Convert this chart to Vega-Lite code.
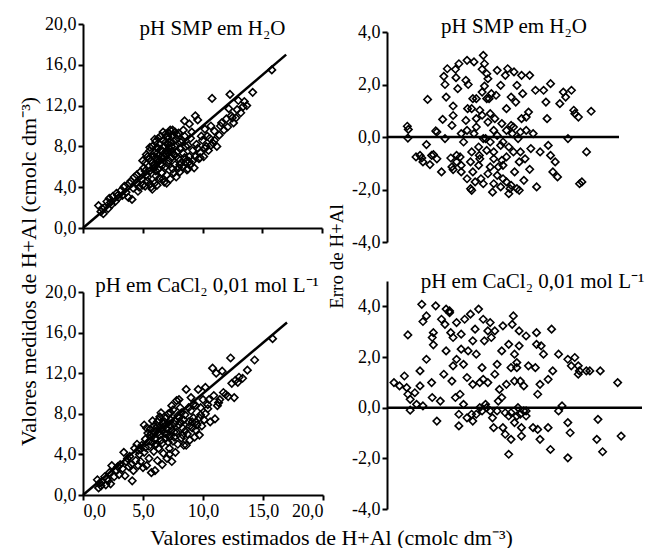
{
"$schema": "https://vega.github.io/schema/vega-lite/v6.json",
"padding": {"left": 16, "top": 15, "right": 0, "bottom": 0},
"config": {
 "font": "Liberation Serif",
 "view": {"stroke": null},
 "axis": {"domainColor": "black", "domainWidth": 2, "tickColor": "black", "tickWidth": 2, "tickSize": 5, "labelFont": "Liberation Serif", "labelFontSize": 18, "labelColor": "black", "titleFont": "Liberation Serif", "titleFontSize": 22, "titleFontWeight": "normal", "titleColor": "black", "grid": false, "labelPadding": 2, "labelExpr": "replace(replace(format(datum.value, '.1f'), '.', ','), '\u2212', '-')"},
 "title": {"font": "Liberation Serif", "fontSize": 21, "fontWeight": "normal", "color": "black", "frame": "group", "anchor": "middle", "baseline": "alphabetic"},
 "point": {"shape": "diamond", "filled": false, "color": "black", "size": 55, "strokeWidth": 1.6, "opacity": 1}
},
"datasets": {
 "L": [{"x": 0, "y": 0}, {"x": 17, "y": 17}],
 "Z20": [{"x": 0, "y": 0}, {"x": 20, "y": 0}],
 "Z22": [{"x": 0, "y": 0}, {"x": 22, "y": 0}],
 "A": [
{"x":1.3,"y":2.2},{"x":1.5,"y":1.6},{"x":1.7,"y":1.4},{"x":1.8,"y":2.0},{"x":2.0,"y":2.6},{"x":2.1,"y":1.9},{"x":2.2,"y":2.9},{"x":2.4,"y":2.3},{"x":2.5,"y":3.1},{"x":2.7,"y":2.6},{"x":2.8,"y":3.4},{"x":3.0,"y":3.0},{"x":3.2,"y":3.7},{"x":3.3,"y":3.2},{"x":3.5,"y":4.1},{"x":3.6,"y":3.5},{"x":3.8,"y":3.0},{"x":4.1,"y":2.8},{"x":3.9,"y":4.4},{"x":4.2,"y":3.9},{"x":4.3,"y":5.0},{"x":4.5,"y":4.4},{"x":4.6,"y":3.6},{"x":4.8,"y":5.5},{"x":4.9,"y":4.8},{"x":5.0,"y":4.2},{"x":5.1,"y":5.9},{"x":5.3,"y":5.2},{"x":5.2,"y":6.4},{"x":5.5,"y":6.8},{"x":5.4,"y":4.6},{"x":5.6,"y":5.6},{"x":5.7,"y":4.0},{"x":5.8,"y":3.8},{"x":5.9,"y":6.2},{"x":6.0,"y":7.4},{"x":6.0,"y":4.4},{"x":6.1,"y":5.1},{"x":6.2,"y":6.8},{"x":6.2,"y":7.9},{"x":6.3,"y":7.1},{"x":6.4,"y":4.9},{"x":6.4,"y":8.2},{"x":6.5,"y":6.3},{"x":6.6,"y":7.6},{"x":6.6,"y":5.4},{"x":6.7,"y":8.6},{"x":6.8,"y":4.5},{"x":6.8,"y":7.0},{"x":6.9,"y":6.0},{"x":7.0,"y":8.9},{"x":7.0,"y":5.2},{"x":7.1,"y":7.4},{"x":7.2,"y":6.6},{"x":7.2,"y":9.3},{"x":7.3,"y":4.8},{"x":7.4,"y":8.0},{"x":7.5,"y":5.8},{"x":7.5,"y":9.6},{"x":7.6,"y":7.2},{"x":7.7,"y":6.2},{"x":7.8,"y":8.7},{"x":7.8,"y":5.0},{"x":7.9,"y":9.1},{"x":8.0,"y":6.8},{"x":8.1,"y":7.8},{"x":8.1,"y":5.5},{"x":8.2,"y":8.4},{"x":8.3,"y":6.0},{"x":8.4,"y":7.3},{"x":8.5,"y":9.0},{"x":8.6,"y":6.5},{"x":8.7,"y":5.7},{"x":8.8,"y":8.1},{"x":8.9,"y":7.0},{"x":9.0,"y":6.2},{"x":9.1,"y":9.4},{"x":9.2,"y":7.6},{"x":9.3,"y":5.9},{"x":9.4,"y":11.0},{"x":9.5,"y":8.2},{"x":9.6,"y":10.6},{"x":9.7,"y":6.8},{"x":9.8,"y":7.4},{"x":10.0,"y":8.6},{"x":10.1,"y":7.0},{"x":10.2,"y":9.7},{"x":10.3,"y":8.0},{"x":10.5,"y":7.6},{"x":10.6,"y":8.8},{"x":10.8,"y":12.7},{"x":10.9,"y":8.3},{"x":11.0,"y":9.5},{"x":11.2,"y":8.0},{"x":11.4,"y":9.1},{"x":11.6,"y":10.3},{"x":11.8,"y":9.6},{"x":12.0,"y":10.7},{"x":12.1,"y":9.9},{"x":12.2,"y":11.7},{"x":12.3,"y":13.1},{"x":12.4,"y":11.0},{"x":12.6,"y":10.3},{"x":12.8,"y":10.8},{"x":13.0,"y":12.5},{"x":13.2,"y":11.3},{"x":13.4,"y":11.9},{"x":13.7,"y":12.0},{"x":14.2,"y":13.3},{"x":15.8,"y":15.5},
{"x":5.0,"y":6.6},{"x":5.3,"y":7.2},{"x":5.6,"y":7.6},{"x":5.8,"y":8.0},{"x":6.0,"y":6.0},{"x":6.1,"y":8.5},{"x":6.3,"y":5.8},{"x":6.5,"y":9.0},{"x":6.7,"y":6.8},{"x":6.9,"y":9.2},{"x":7.1,"y":8.2},{"x":7.3,"y":9.6},{"x":7.4,"y":6.9},{"x":7.6,"y":8.5},{"x":7.9,"y":7.5},{"x":8.0,"y":9.3},{"x":8.2,"y":6.4},{"x":8.4,"y":9.6},{"x":8.6,"y":8.0},{"x":8.8,"y":5.8},{"x":9.0,"y":8.8},{"x":9.2,"y":6.6},{"x":5.7,"y":6.6},{"x":6.2,"y":7.3},{"x":6.6,"y":7.0},{"x":7.0,"y":7.6},{"x":6.4,"y":6.6},{"x":5.9,"y":7.0},{"x":6.8,"y":8.0},{"x":7.2,"y":7.8},{"x":7.7,"y":8.0},{"x":8.3,"y":8.6},{"x":4.5,"y":5.2},{"x":4.0,"y":4.6},{"x":3.4,"y":4.0},{"x":2.9,"y":3.2},{"x":2.3,"y":2.5},{"x":1.6,"y":1.9},{"x":4.7,"y":4.0},{"x":5.2,"y":5.6},{"x":9.6,"y":7.8},{"x":10.4,"y":9.0},{"x":11.0,"y":8.6},{"x":11.5,"y":10.0},{"x":12.5,"y":10.8},{"x":12.9,"y":11.6},{"x":13.5,"y":12.4},{"x":10.7,"y":10.0},{"x":9.9,"y":9.0},{"x":8.9,"y":10.2},{"x":8.5,"y":10.5},
{"x":5.4,"y":7.0},{"x":5.6,"y":7.9},{"x":5.8,"y":6.4},{"x":6.0,"y":8.7},{"x":6.1,"y":6.9},{"x":6.3,"y":8.8},{"x":6.5,"y":7.7},{"x":6.7,"y":9.4},{"x":6.9,"y":8.4},{"x":7.1,"y":9.0},{"x":7.3,"y":8.4},{"x":7.5,"y":9.1},{"x":7.7,"y":9.4},{"x":6.3,"y":7.8},{"x":6.9,"y":7.2},{"x":7.1,"y":6.3},{"x":6.1,"y":5.6},{"x":6.6,"y":6.1},{"x":7.4,"y":7.5},{"x":7.8,"y":7.0},{"x":8.1,"y":6.2},{"x":8.5,"y":6.9},{"x":8.9,"y":6.5},{"x":9.4,"y":7.0},{"x":9.8,"y":6.9},{"x":10.2,"y":7.8},{"x":10.7,"y":8.1},{"x":5.4,"y":5.0},{"x":6.7,"y":4.8},{"x":7.6,"y":5.4},{"x":8.0,"y":5.9},{"x":7.0,"y":4.4},{"x":5.2,"y":4.1},{"x":5.6,"y":4.3},{"x":5.9,"y":5.8},{"x":6.2,"y":4.2}
 ],
 "B": [
{"x":1.75,"y":0.41},{"x":1.84,"y":0.29},{"x":1.8,"y":-0.04},{"x":2.5,"y":-0.76},{"x":3.4,"y":-0.29},{"x":3.0,"y":-0.8},{"x":3.5,"y":1.43},{"x":3.7,"y":-1.05},{"x":4.0,"y":-0.67},{"x":4.3,"y":0.19},{"x":4.2,"y":0.23},{"x":4.8,"y":0.67},{"x":5.0,"y":-0.06},{"x":4.7,"y":-1.33},{"x":4.9,"y":2.31},{"x":5.2,"y":2.6},{"x":5.1,"y":1.52},{"x":5.0,"y":2.0},{"x":5.7,"y":1.18},{"x":5.7,"y":0.82},{"x":5.6,"y":0.44},{"x":5.5,"y":-0.8},{"x":5.7,"y":-1.24},{"x":5.95,"y":2.26},{"x":5.9,"y":2.58},{"x":6.1,"y":1.84},{"x":6.2,"y":2.79},{"x":6.0,"y":-0.7},{"x":6.4,"y":-1.33},{"x":6.6,"y":-0.19},{"x":6.8,"y":2.16},{"x":6.9,"y":2.92},{"x":7.0,"y":2.0},{"x":6.95,"y":1.08},{"x":6.8,"y":0.63},{"x":7.2,"y":-1.97},{"x":7.2,"y":-0.95},{"x":7.4,"y":-1.33},{"x":7.5,"y":2.86},{"x":7.4,"y":1.46},{"x":7.5,"y":0.13},{"x":7.7,"y":0.7},{"x":7.7,"y":0.38},{"x":7.9,"y":-0.38},{"x":8.0,"y":1.02},{"x":8.2,"y":1.71},{"x":8.2,"y":2.58},{"x":8.3,"y":3.11},{"x":8.4,"y":1.94},{"x":8.0,"y":-0.83},{"x":8.1,"y":-1.59},{"x":8.3,"y":-1.78},{"x":8.4,"y":2.79},{"x":8.6,"y":2.41},{"x":8.5,"y":-0.06},{"x":8.6,"y":-0.51},{"x":8.7,"y":2.22},{"x":8.8,"y":1.46},{"x":8.9,"y":0.89},{"x":8.9,"y":-1.14},{"x":9.1,"y":-2.1},{"x":9.2,"y":-0.83},{"x":9.3,"y":0.7},{"x":9.4,"y":1.59},{"x":9.5,"y":2.54},{"x":9.5,"y":0.06},{"x":9.6,"y":-1.14},{"x":9.8,"y":1.97},{"x":9.9,"y":0.51},{"x":10.0,"y":-1.59},{"x":10.0,"y":-0.19},{"x":10.2,"y":2.35},{"x":10.3,"y":1.08},{"x":10.3,"y":-0.76},{"x":10.4,"y":2.6},{"x":10.5,"y":-0.38},{"x":10.6,"y":-1.97},{"x":10.7,"y":1.52},{"x":10.7,"y":0.44},{"x":10.8,"y":0.13},{"x":10.95,"y":2.48},{"x":11.0,"y":-1.33},{"x":11.1,"y":1.33},{"x":11.2,"y":1.97},{"x":11.3,"y":-0.06},{"x":11.4,"y":-2.03},{"x":11.5,"y":-0.57},{"x":11.6,"y":0.7},{"x":11.6,"y":2.35},{"x":11.7,"y":1.65},{"x":11.8,"y":-1.65},{"x":11.9,"y":-0.83},{"x":12.0,"y":0.25},{"x":12.0,"y":0.76},{"x":12.2,"y":0.95},{"x":12.3,"y":2.35},{"x":12.3,"y":-1.23},{"x":12.4,"y":-0.44},{"x":12.6,"y":0.13},{"x":12.8,"y":1.78},{"x":12.9,"y":-1.9},{"x":13.2,"y":-0.57},{"x":13.5,"y":1.78},{"x":13.7,"y":1.33},{"x":13.8,"y":0.7},{"x":13.9,"y":-0.32},{"x":14.1,"y":2.03},{"x":14.1,"y":-0.7},{"x":14.3,"y":-1.33},{"x":14.5,"y":-0.95},{"x":14.7,"y":-1.52},{"x":14.9,"y":1.27},{"x":15.2,"y":1.71},{"x":15.4,"y":1.52},{"x":15.6,"y":-0.06},{"x":15.9,"y":1.78},{"x":16.1,"y":1.02},{"x":16.2,"y":0.89},{"x":16.5,"y":0.76},{"x":16.6,"y":-1.78},{"x":16.8,"y":-1.71},{"x":17.2,"y":-0.57},{"x":17.6,"y":0.98},
{"x":9.2,"y":-1.78},{"x":9.8,"y":-1.9},{"x":10.3,"y":-1.71},{"x":10.7,"y":-1.84},{"x":11.2,"y":-1.97},{"x":10.5,"y":-2.16},{"x":9.5,"y":-1.46},{"x":10.0,"y":-1.08},{"x":8.7,"y":-1.4},{"x":7.9,"y":-1.08},{"x":7.6,"y":-1.71},{"x":7.3,"y":-2.03},{"x":6.9,"y":-1.59},{"x":6.4,"y":-1.08},{"x":6.0,"y":-0.95},{"x":8.3,"y":-0.06},{"x":8.9,"y":-0.19},{"x":9.8,"y":-0.32},{"x":10.3,"y":0.25},{"x":10.9,"y":0.38},{"x":11.5,"y":0.19},{"x":9.2,"y":0.25},{"x":8.7,"y":0.57},{"x":8.2,"y":0.83},{"x":8.6,"y":1.46},{"x":9.0,"y":1.65},{"x":7.7,"y":1.46},{"x":7.3,"y":1.08},{"x":6.9,"y":0.25},{"x":6.4,"y":0.13},{"x":7.3,"y":-0.57},{"x":7.96,"y":-0.7},{"x":9.2,"y":-0.57},{"x":9.9,"y":-0.89},{"x":10.9,"y":-0.57},{"x":11.4,"y":-0.95},{"x":2.85,"y":-0.7},{"x":3.85,"y":-0.7},{"x":6.3,"y":-0.76},{"x":4.3,"y":-0.83},{"x":3.1,"y":-0.95},{"x":5.6,"y":-1.14}
 ],
 "C": [
{"x":1.2,"y":1.5},{"x":1.3,"y":0.7},{"x":1.5,"y":0.9},{"x":1.6,"y":1.3},{"x":1.8,"y":1.8},{"x":1.9,"y":1.0},{"x":2.1,"y":1.4},{"x":2.2,"y":2.2},{"x":2.3,"y":1.1},{"x":2.4,"y":2.9},{"x":2.6,"y":1.8},{"x":2.8,"y":2.4},{"x":3.0,"y":2.0},{"x":3.1,"y":3.0},{"x":3.3,"y":2.6},{"x":3.4,"y":4.2},{"x":3.5,"y":1.9},{"x":3.6,"y":3.3},{"x":3.8,"y":2.8},{"x":3.9,"y":3.8},{"x":4.1,"y":1.4},{"x":4.2,"y":2.4},{"x":4.3,"y":4.6},{"x":4.4,"y":3.4},{"x":4.5,"y":5.0},{"x":4.6,"y":2.9},{"x":4.7,"y":4.0},{"x":4.8,"y":3.3},{"x":4.9,"y":4.9},{"x":5.0,"y":2.7},{"x":5.1,"y":6.9},{"x":5.1,"y":4.2},{"x":5.2,"y":5.5},{"x":5.3,"y":2.9},{"x":5.4,"y":6.1},{"x":5.5,"y":3.6},{"x":5.5,"y":4.8},{"x":5.6,"y":6.5},{"x":5.7,"y":2.2},{"x":5.7,"y":5.7},{"x":5.8,"y":7.3},{"x":5.9,"y":4.3},{"x":6.0,"y":2.4},{"x":6.0,"y":6.2},{"x":6.1,"y":5.0},{"x":6.2,"y":3.4},{"x":6.2,"y":6.8},{"x":6.3,"y":4.6},{"x":6.4,"y":7.7},{"x":6.5,"y":5.4},{"x":6.6,"y":3.0},{"x":6.6,"y":6.4},{"x":6.7,"y":4.1},{"x":6.8,"y":7.2},{"x":6.9,"y":5.6},{"x":7.0,"y":3.6},{"x":7.0,"y":6.0},{"x":7.1,"y":8.0},{"x":7.2,"y":4.6},{"x":7.3,"y":6.8},{"x":7.4,"y":3.3},{"x":7.5,"y":5.3},{"x":7.5,"y":8.4},{"x":7.6,"y":7.0},{"x":7.7,"y":4.2},{"x":7.8,"y":9.3},{"x":7.8,"y":6.2},{"x":7.9,"y":5.0},{"x":8.0,"y":7.6},{"x":8.1,"y":8.6},{"x":8.2,"y":5.6},{"x":8.3,"y":6.6},{"x":8.4,"y":4.9},{"x":8.5,"y":7.9},{"x":8.6,"y":10.4},{"x":8.7,"y":6.0},{"x":8.8,"y":7.2},{"x":8.9,"y":5.4},{"x":9.0,"y":8.3},{"x":9.1,"y":6.6},{"x":9.2,"y":7.6},{"x":9.3,"y":5.7},{"x":9.4,"y":8.8},{"x":9.5,"y":6.9},{"x":9.6,"y":10.4},{"x":9.7,"y":7.6},{"x":9.8,"y":8.6},{"x":9.9,"y":6.8},{"x":10.0,"y":9.4},{"x":10.1,"y":7.4},{"x":10.2,"y":8.0},{"x":10.4,"y":8.5},{"x":10.6,"y":7.2},{"x":10.8,"y":12.5},{"x":10.9,"y":9.8},{"x":11.0,"y":7.5},{"x":11.1,"y":12.0},{"x":11.2,"y":8.8},{"x":11.4,"y":9.4},{"x":11.6,"y":12.2},{"x":11.7,"y":10.1},{"x":11.9,"y":9.9},{"x":12.1,"y":9.7},{"x":12.3,"y":13.5},{"x":12.4,"y":11.0},{"x":12.6,"y":9.6},{"x":12.7,"y":11.3},{"x":12.9,"y":11.1},{"x":13.0,"y":11.6},{"x":13.3,"y":11.5},{"x":13.7,"y":12.3},{"x":14.3,"y":13.3},{"x":15.8,"y":15.4},
{"x":5.8,"y":5.2},{"x":6.1,"y":6.6},{"x":6.4,"y":5.9},{"x":6.7,"y":7.0},{"x":7.0,"y":6.5},{"x":7.3,"y":7.4},{"x":7.6,"y":6.2},{"x":8.0,"y":6.9},{"x":8.4,"y":7.4},{"x":6.3,"y":6.2},{"x":5.6,"y":5.9},{"x":5.9,"y":6.8},{"x":6.9,"y":7.6},{"x":7.2,"y":5.7},{"x":8.2,"y":8.1},{"x":8.8,"y":8.6},{"x":9.2,"y":8.9},{"x":4.0,"y":3.0},{"x":3.7,"y":3.6},{"x":2.9,"y":2.8},{"x":2.0,"y":1.6},{"x":1.4,"y":1.2},{"x":10.2,"y":10.6},{"x":9.0,"y":9.6},{"x":8.0,"y":9.4},{"x":7.4,"y":8.8},{"x":7.9,"y":7.8},{"x":6.5,"y":8.1},{"x":5.3,"y":6.6},{"x":4.6,"y":4.4},{"x":9.4,"y":7.2},{"x":10.4,"y":8.9},{"x":11.3,"y":9.1},{"x":9.7,"y":5.9},{"x":8.6,"y":4.9},{"x":7.2,"y":4.0},
{"x":5.7,"y":6.1},{"x":6.0,"y":5.5},{"x":6.2,"y":7.2},{"x":6.5,"y":6.6},{"x":6.8,"y":6.1},{"x":7.1,"y":7.1},{"x":7.4,"y":6.4},{"x":7.7,"y":7.3},{"x":8.1,"y":7.2},{"x":8.5,"y":6.3},{"x":6.6,"y":5.1},{"x":7.1,"y":5.2},{"x":7.6,"y":5.7},{"x":8.3,"y":5.9},{"x":8.9,"y":6.8},{"x":9.4,"y":6.4},{"x":6.0,"y":4.9},{"x":5.5,"y":5.3},{"x":5.2,"y":4.7},{"x":4.8,"y":4.5},{"x":6.9,"y":6.9},{"x":7.3,"y":8.1},{"x":6.3,"y":7.4},{"x":9.1,"y":7.2},{"x":9.8,"y":7.9},{"x":10.5,"y":9.4}
 ],
 "D": [
{"x":0.6,"y":0.99},{"x":1.08,"y":0.86},{"x":1.5,"y":1.25},{"x":1.7,"y":0.79},{"x":1.8,"y":2.87},{"x":1.8,"y":0.53},{"x":2.0,"y":0.33},{"x":2.0,"y":-0.1},{"x":2.55,"y":0.13},{"x":2.4,"y":0.59},{"x":2.85,"y":0.86},{"x":2.85,"y":1.45},{"x":3.1,"y":0.07},{"x":3.0,"y":4.08},{"x":3.1,"y":3.4},{"x":3.4,"y":1.91},{"x":3.4,"y":3.62},{"x":3.85,"y":0.99},{"x":3.9,"y":2.77},{"x":4.0,"y":2.48},{"x":3.9,"y":0.4},{"x":4.0,"y":2.96},{"x":4.3,"y":-0.53},{"x":4.2,"y":4.02},{"x":4.6,"y":0.26},{"x":4.7,"y":3.49},{"x":4.9,"y":1.32},{"x":5.0,"y":3.29},{"x":5.1,"y":2.24},{"x":5.1,"y":3.89},{"x":5.4,"y":3.82},{"x":5.4,"y":3.75},{"x":5.5,"y":2.96},{"x":5.6,"y":1.05},{"x":5.7,"y":1.65},{"x":5.7,"y":2.77},{"x":5.9,"y":0.4},{"x":6.0,"y":1.91},{"x":6.0,"y":3.36},{"x":6.2,"y":-0.26},{"x":6.2,"y":-0.72},{"x":6.3,"y":0.53},{"x":6.4,"y":2.31},{"x":6.4,"y":2.9},{"x":6.7,"y":3.49},{"x":6.6,"y":1.71},{"x":6.6,"y":0.13},{"x":6.9,"y":1.19},{"x":6.9,"y":-0.4},{"x":7.0,"y":2.24},{"x":7.2,"y":3.69},{"x":7.3,"y":-0.26},{"x":7.4,"y":-0.53},{"x":7.4,"y":0.92},{"x":7.4,"y":2.64},{"x":7.6,"y":3.1},{"x":7.7,"y":2.11},{"x":7.9,"y":3.89},{"x":8.0,"y":0.99},{"x":8.2,"y":1.58},{"x":8.2,"y":-0.13},{"x":8.3,"y":1.12},{"x":8.3,"y":3.49},{"x":8.4,"y":2.64},{"x":8.5,"y":0.13},{"x":8.7,"y":3.03},{"x":8.7,"y":0.99},{"x":8.9,"y":3.36},{"x":8.9,"y":-0.13},{"x":9.0,"y":2.77},{"x":9.1,"y":-0.4},{"x":9.2,"y":-0.79},{"x":9.3,"y":3.03},{"x":9.3,"y":1.32},{"x":9.5,"y":1.71},{"x":9.6,"y":0.26},{"x":9.7,"y":0.72},{"x":9.9,"y":2.24},{"x":9.9,"y":0.4},{"x":10.0,"y":3.23},{"x":10.0,"y":-0.79},{"x":10.2,"y":-1.05},{"x":10.2,"y":-0.2},{"x":10.3,"y":0.92},{"x":10.5,"y":2.5},{"x":10.5,"y":-1.84},{"x":10.7,"y":-1.25},{"x":10.7,"y":1.58},{"x":10.8,"y":3.29},{"x":10.9,"y":3.62},{"x":11.0,"y":-0.59},{"x":11.0,"y":2.11},{"x":11.0,"y":1.05},{"x":11.2,"y":1.58},{"x":11.2,"y":1.78},{"x":11.3,"y":0.0},{"x":11.4,"y":3.03},{"x":11.4,"y":2.44},{"x":11.5,"y":1.05},{"x":11.5,"y":-0.26},{"x":11.6,"y":-1.12},{"x":11.6,"y":-0.79},{"x":11.8,"y":-0.13},{"x":11.8,"y":0.86},{"x":12.0,"y":2.83},{"x":12.0,"y":-0.13},{"x":12.2,"y":1.65},{"x":12.6,"y":-0.79},{"x":12.8,"y":1.58},{"x":12.9,"y":2.96},{"x":12.9,"y":2.5},{"x":13.0,"y":0.53},{"x":13.0,"y":-0.86},{"x":13.2,"y":-1.25},{"x":13.2,"y":0.92},{"x":13.3,"y":2.44},{"x":13.5,"y":2.11},{"x":13.9,"y":-0.79},{"x":13.9,"y":1.12},{"x":14.1,"y":-1.65},{"x":14.2,"y":3.1},{"x":14.3,"y":1.45},{"x":14.8,"y":-0.13},{"x":14.8,"y":2.11},{"x":15.1,"y":0.07},{"x":15.6,"y":-1.98},{"x":15.6,"y":-0.59},{"x":15.6,"y":1.91},{"x":15.8,"y":-0.99},{"x":15.9,"y":1.65},{"x":16.2,"y":1.98},{"x":16.5,"y":1.32},{"x":16.5,"y":1.65},{"x":16.6,"y":1.45},{"x":17.2,"y":1.45},{"x":17.5,"y":1.45},{"x":18.2,"y":-0.46},{"x":18.1,"y":-1.25},{"x":18.4,"y":1.45},{"x":18.6,"y":-1.74},{"x":19.9,"y":0.99},{"x":20.2,"y":-1.12},
{"x":8.6,"y":0.0},{"x":9.5,"y":-0.13},{"x":10.7,"y":-0.2},{"x":11.2,"y":-0.33},{"x":12.0,"y":-0.33},{"x":10.5,"y":-0.33},{"x":7.7,"y":-0.26},{"x":8.0,"y":0.0}
 ]
},
"columns": 2,
"spacing": {"row": 39, "column": 64},
"bounds": "flush",
"concat": [
 {
  "width": 239, "height": 204,
  "title": {"text": "pH SMP em H₂O", "offset": -24, "dx": 10},
  "layer": [
   {"data": {"name": "A"}, "mark": {"type": "point"},
    "encoding": {
     "x": {"field": "x", "type": "quantitative", "scale": {"domain": [0, 20]}, "axis": {"values": [0, 5, 10, 15, 20], "labels": false, "title": null}},
     "y": {"field": "y", "type": "quantitative", "scale": {"domain": [0, 20]}, "axis": {"values": [0, 4, 8, 12, 16, 20], "title": "Valores medidos de H+Al (cmolc dm⁻³)", "titleX": -48, "titleY": 247, "titleBaseline": "alphabetic", "titleAlign": "center", "titleAngle": 270}}}},
   {"data": {"name": "L"}, "mark": {"type": "line", "color": "black", "strokeWidth": 2.5},
    "encoding": {"x": {"field": "x", "type": "quantitative"}, "y": {"field": "y", "type": "quantitative"}}}
  ]
 },
 {
  "width": 232, "height": 218,
  "title": {"text": "pH SMP em H₂O", "offset": -14, "dx": 11},
  "layer": [
   {"data": {"name": "B"}, "mark": {"type": "point"},
    "encoding": {
     "x": {"field": "x", "type": "quantitative", "scale": {"domain": [0, 20]}, "axis": null},
     "y": {"field": "y", "type": "quantitative", "scale": {"domain": [-4, 4], "range": [218, 8]}, "axis": {"values": [-4, -3, -2, -1, 0, 1, 2, 3, 4], "title": "Erro de H+Al", "titleFontSize": 19, "titleX": -45, "titleY": 232, "titleBaseline": "alphabetic", "titleAlign": "center", "titleAngle": 270}}}},
   {"data": {"name": "Z20"}, "mark": {"type": "line", "color": "black", "strokeWidth": 2.5},
    "encoding": {"x": {"field": "x", "type": "quantitative"}, "y": {"field": "y", "type": "quantitative"}}}
  ]
 },
 {
  "width": 240, "height": 214,
  "title": {"text": "pH em CaCl₂ 0,01 mol L⁻¹", "offset": -15, "dx": 4},
  "layer": [
   {"data": {"name": "C"}, "mark": {"type": "point"},
    "encoding": {
     "x": {"field": "x", "type": "quantitative", "scale": {"domain": [0, 20]}, "axis": {"values": [0, 5, 10, 15, 20], "title": "Valores estimados de H+Al (cmolc dm⁻³)", "titleX": 248, "titleY": 49, "titleBaseline": "alphabetic", "titleAlign": "center"}},
     "y": {"field": "y", "type": "quantitative", "scale": {"domain": [0, 20], "range": [214, 11]}, "axis": {"values": [0, 4, 8, 12, 16, 20], "title": null}}}},
   {"data": {"name": "L"}, "mark": {"type": "line", "color": "black", "strokeWidth": 2.5},
    "encoding": {"x": {"field": "x", "type": "quantitative"}, "y": {"field": "y", "type": "quantitative"}}}
  ]
 },
 {
  "width": 255, "height": 228,
  "title": {"text": "pH em CaCl₂ 0,01 mol L⁻¹", "offset": -11, "dx": 18},
  "layer": [
   {"data": {"name": "D"}, "mark": {"type": "point"},
    "encoding": {
     "x": {"field": "x", "type": "quantitative", "scale": {"domain": [0, 22]}, "axis": null},
     "y": {"field": "y", "type": "quantitative", "scale": {"domain": [-4, 5]}, "axis": {"values": [-4, -3, -2, -1, 0, 1, 2, 3, 4, 5], "title": null}}}},
   {"data": {"name": "Z22"}, "mark": {"type": "line", "color": "black", "strokeWidth": 2.5},
    "encoding": {"x": {"field": "x", "type": "quantitative"}, "y": {"field": "y", "type": "quantitative"}}}
  ]
 }
]
}
